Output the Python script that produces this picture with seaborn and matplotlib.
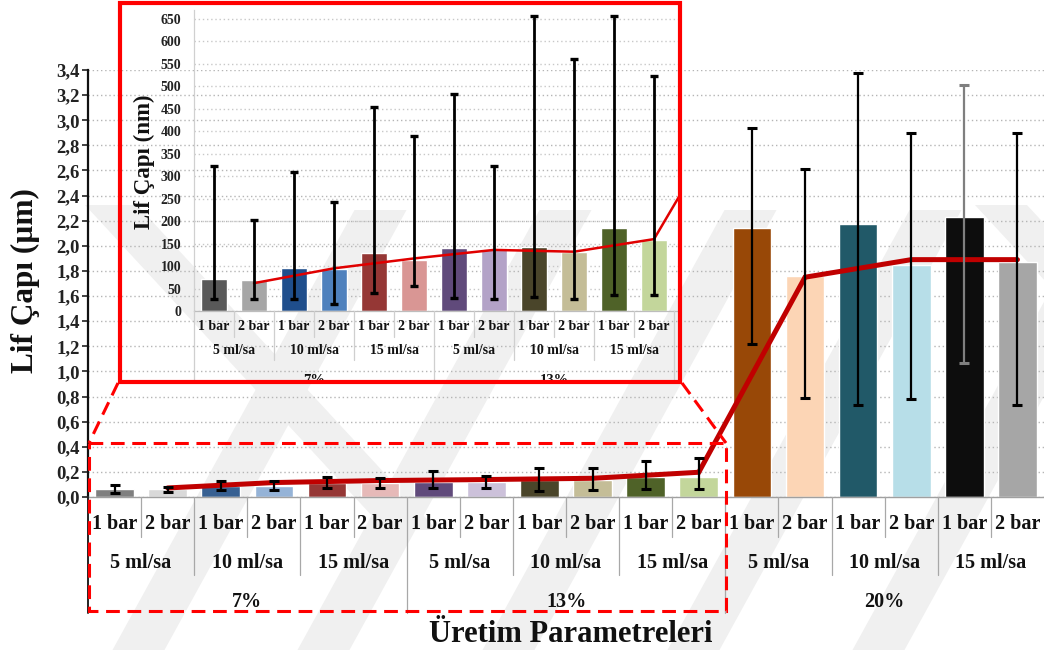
import numpy as np
import pandas as pd
import seaborn as sns
import matplotlib.pyplot as plt
from matplotlib.patches import Rectangle, Polygon
from matplotlib.lines import Line2D
from matplotlib.transforms import Affine2D, blended_transform_factory

# ---------------- data ----------------
concentrations = ["7%", "13%", "20%"]
flow_rates = ["5 ml/sa", "10 ml/sa", "15 ml/sa"]
pressures = ["1 bar", "2 bar"]

# fibre diameter (µm), all 18 combinations
main_mean = [0.064, 0.064, 0.085, 0.085, 0.112, 0.112, 0.117, 0.117, 0.133, 0.133, 0.157, 0.157,
             2.14, 1.76, 2.17, 1.85, 2.23, 1.87]
main_low = [0.032, 0.040, 0.053, 0.059, 0.069, 0.072, 0.072, 0.072, 0.045, 0.056, 0.067, 0.061,
            1.22, 0.79, 0.73, 0.78, 1.07, 0.73]
main_high = [0.093, 0.083, 0.128, 0.128, 0.163, 0.149, 0.208, 0.165, 0.232, 0.227, 0.288, 0.312,
             2.94, 2.61, 3.38, 2.90, 3.28, 2.90]
# trend values at the "2 bar" positions
main_trend = [0.072, 0.115, 0.131, 0.139, 0.149, 0.197, 1.75, 1.89, 1.89]

main_colors = ["#7f7f7f", "#d9d9d9", "#376092", "#95b3d7", "#953735", "#e6b9b8",
               "#604a7b", "#ccc1da", "#4a452a", "#c4bd97", "#4f6228", "#c3d69b",
               "#984807", "#fcd5b5", "#215968", "#b7dee8", "#0d0d0d", "#a6a6a6"]
err_colors = ["black"] * 16 + ["#7f7f7f", "black"]

# detail for the 7% and 13% solutions (nm)
inset_mean = [70.5, 69, 96, 93, 129, 114, 141, 137, 142, 131, 184, 157]
inset_low = [27, 27, 27, 16, 41, 56, 30, 27, 32, 27, 36, 36]
inset_high = [322, 202, 309, 242, 453, 389, 482, 322, 657, 562, 657, 522]
inset_trend = [62, 95, 117, 136, 132, 160, 462]
inset_colors = ["#595959", "#a6a6a6", "#1f4e8c", "#4f81bd", "#953735", "#d99694",
                "#604a7b", "#b3a2c7", "#4a452a", "#c4bd97", "#4f6228", "#c3d69b"]

# ---------------- style ----------------
sns.set_theme(style="white")
plt.rcParams["font.family"] = ["Liberation Serif", "DejaVu Serif"]
plt.rcParams["font.weight"] = "bold"

W, H, DPI = 1044, 657, 100
fig = plt.figure(figsize=(W / DPI, H / DPI), dpi=DPI, facecolor="white")

# transform: pixel coordinates measured from the top-left corner of the figure
px = Affine2D().scale(1 / W, -1 / H).translate(0, 1) + fig.transFigure


def add_axes_px(x0, y0, x1, y1):
    return fig.add_axes([x0 / W, 1 - y1 / H, (x1 - x0) / W, (y1 - y0) / H])


# faint diagonal background watermark
wm = "#f0f0f0"
top_y, bot_y = 210, 650
for x580 in (151, 336, 521, 706, 891):            # "/" strokes
    a = x580 + 0.55 * (580 - bot_y)
    b = x580 + 0.55 * (580 - top_y)
    fig.add_artist(Polygon([(a, bot_y), (a + 52, bot_y), (b + 52, top_y), (b, top_y)],
                           closed=True, transform=px, facecolor=wm, edgecolor="none", zorder=-5))
for x205 in (85, 975):                             # "\" strokes
    fig.add_artist(Polygon([(x205, 205), (x205 + 52, 205), (x205 + 52 + 300, 530), (x205 + 300, 530)],
                           closed=True, transform=px, facecolor=wm, edgecolor="none", zorder=-5))

# ---------------- main chart ----------------
ax = add_axes_px(88, 70, 1044, 497)
ax.set_facecolor("none")

labels = [f"{c} {f} {p}" for c in concentrations for f in flow_rates for p in pressures]
df = pd.DataFrame({"key": labels, "mean": main_mean})
sns.barplot(data=df, x="key", y="mean", hue="key", order=labels, hue_order=labels,
            palette=dict(zip(labels, main_colors)), saturation=1, width=0.73,
            legend=False, ax=ax, zorder=2)

x = np.arange(len(labels))
mm, lo, hi = map(np.asarray, (main_mean, main_low, main_high))
for i in x:
    ax.errorbar(i, mm[i], yerr=[[mm[i] - lo[i]], [hi[i] - mm[i]]], fmt="none",
                ecolor=err_colors[i], elinewidth=1.6, capsize=3.6, capthick=2.2, zorder=5)

ax.plot(x[1::2], main_trend, color="#c00000", lw=3.6, zorder=4, solid_joinstyle="miter")

ax.set_xlim(-0.5, 17.5)
ax.set_ylim(0, 3.4)
yt = np.round(np.arange(0, 3.41, 0.2), 1)
ax.set_yticks(yt)
ax.set_yticklabels([f"{v:.1f}".replace(".", ",") for v in yt], fontsize=13.5, fontweight="bold")
ax.tick_params(axis="y", direction="out", length=4, width=1.2, pad=2, colors="#222222", left=True)
ax.set_xticks([])
ax.set_xlabel("")
ax.set_ylabel("")
ax.grid(axis="y", color="#b5b5b5", linestyle=(0, (1, 2)), linewidth=1.0, zorder=0)
ax.set_axisbelow(True)
for s in ("top", "right"):
    ax.spines[s].set_visible(False)
ax.spines["left"].set_color("#111111")
ax.spines["left"].set_linewidth(1.6)
ax.spines["bottom"].set_color("#a0a0a0")
ax.spines["bottom"].set_linewidth(1.0)

# category table under the main axis
tr = blended_transform_factory(ax.transData, px)
sep = "#a8a8a8"
for k in range(1, 18):
    bottom = 613 if k % 6 == 0 else (575 if k % 2 == 0 else 537)
    fig.add_artist(Line2D([k - 0.5, k - 0.5], [497, bottom], transform=tr, color=sep, lw=0.9))
fig.add_artist(Line2D([-0.5, -0.5], [497, 613], transform=tr, color="#222222", lw=1.4))
for i in x:
    ax.text(i, 524, pressures[i % 2], transform=tr, ha="center", va="center", fontsize=14.5,
            fontweight="bold", color="#111111")
for g in range(9):
    ax.text(2 * g + 0.5, 563, flow_rates[g % 3], transform=tr, ha="center", va="center",
            fontsize=14.5, fontweight="bold", color="#111111")
for c in range(3):
    ax.text(6 * c + 2.5, 602, concentrations[c], transform=tr, ha="center", va="center",
            fontsize=14.5, fontweight="bold", color="#111111")

fig.text(25 / W, 1 - 281 / H, "Lif Çapı (µm)", rotation=90, ha="center", va="center",
         fontsize=22.5, fontweight="bold", color="#111111")
fig.text(571 / W, 1 - 634 / H, "Üretim Parametreleri", ha="center", va="center",
         fontsize=22, fontweight="bold", color="#111111")

# ---------------- inset (7% and 13%, nm) ----------------
ins = add_axes_px(194, 10, 680, 311)
ins.set_facecolor("none")
in_labels = labels[:12]
dfi = pd.DataFrame({"key": in_labels, "mean": inset_mean})
sns.barplot(data=dfi, x="key", y="mean", hue="key", order=in_labels, hue_order=in_labels,
            palette=dict(zip(in_labels, inset_colors)), saturation=1, width=0.65,
            legend=False, ax=ins, zorder=2)
xi = np.arange(12)
im, il, ih = map(np.asarray, (inset_mean, inset_low, inset_high))
ins.errorbar(xi, im, yerr=[im - il, ih - im], fmt="none", ecolor="black",
             elinewidth=2.0, capsize=3.0, capthick=2.4, zorder=5)
ins.plot(np.arange(1, 2 * len(inset_trend), 2), inset_trend, color="#e00000", lw=1.8, zorder=4)

ins.set_xlim(-0.5, 11.65)
ins.set_ylim(0, 670)
ins.set_yticks(np.arange(0, 651, 50))
ins.set_yticklabels([str(v) for v in range(0, 651, 50)], fontsize=10, fontweight="bold")
ins.tick_params(axis="y", length=0, pad=9, colors="#222222")
ins.set_xticks([])
ins.set_xlabel("")
ins.set_ylabel("")
ins.grid(axis="y", color="#c8c8c8", linestyle=(0, (1, 2)), linewidth=1.0, zorder=0)
ins.set_axisbelow(True)
for s in ("top", "right"):
    ins.spines[s].set_visible(False)
ins.spines["left"].set_color("#d0d0d0")
ins.spines["left"].set_linewidth(0.9)
ins.spines["bottom"].set_color("#bdbdbd")
ins.spines["bottom"].set_linewidth(0.9)

tri = blended_transform_factory(ins.transData, px)
for k in range(0, 13):
    bottom = 382 if k % 6 == 0 else (360 if k % 2 == 0 else 337)
    fig.add_artist(Line2D([k - 0.5, k - 0.5], [311, bottom], transform=tri, color="#cfcfcf", lw=0.9))
for i in xi:
    ins.text(i, 326, pressures[i % 2], transform=tri, ha="center", va="center", fontsize=10,
             fontweight="bold", color="#111111")
for g in range(6):
    ins.text(2 * g + 0.5, 351, flow_rates[g % 3], transform=tri, ha="center", va="center",
             fontsize=10, fontweight="bold", color="#111111")
for c in range(2):
    ins.text(6 * c + 2.5, 380, concentrations[c], transform=tri, ha="center", va="center",
             fontsize=10.5, fontweight="bold", color="#111111")
fig.text(144 / W, 1 - 162 / H, "Lif Çapı (nm)", rotation=90, ha="center", va="center",
         fontsize=16.5, fontweight="bold", color="#111111")

# ---------------- zoom frame and callout ----------------
red = "#ff0000"
fig.add_artist(Rectangle((120, 3), 560, 379, transform=px, fill=False, edgecolor=red,
                         lw=3.0, zorder=20))
dash = (0, (4.5, 2.5))
fig.add_artist(Rectangle((89, 443), 637, 168, transform=px, fill=False, edgecolor=red,
                         lw=2.2, linestyle=dash, zorder=20))
fig.add_artist(Line2D([118, 89], [383, 443], transform=px, color=red, lw=2.2, linestyle=dash, zorder=20))
fig.add_artist(Line2D([682, 726], [383, 443], transform=px, color=red, lw=2.2, linestyle=dash, zorder=20))

fig.savefig("out.png", dpi=DPI, facecolor="white")
